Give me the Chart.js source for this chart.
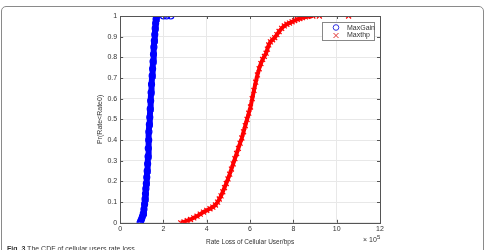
<!DOCTYPE html>
<html>
<head>
<meta charset="utf-8">
<script src="https://cdn.jsdelivr.net/npm/chart.js@4"></script>
<style>
  html, body { margin: 0; padding: 0; background: #fff; overflow: hidden; }
  #wrap { position: relative; width: 486px; height: 250px; }
  #frame { position: absolute; left: 1px; top: 6px; width: 481px; height: 270px;
           border: 1px solid #8a8a8a; border-radius: 5px; }
  #caption { position: absolute; left: 7px; top: 245px; font: 7px "Liberation Sans", Arial, sans-serif;
             color: #333; white-space: nowrap; }
  canvas { position: absolute; left: 0; top: 0; }
</style>
</head>
<body>
<div id="wrap">
  <div id="frame"></div>
  <canvas id="chart" width="486" height="250"></canvas>
  <div id="caption"><b>Fig. 3</b> The CDF of cellular users rate loss</div>
</div>
<script>
// Ejes (x en unidades de 10^5 bps)
const X_TICKS = [0, 2, 4, 6, 8, 10, 12];
const Y_TICKS = [0, 0.1, 0.2, 0.3, 0.4, 0.5, 0.6, 0.7, 0.8, 0.9, 1];
const Y_TICK_LABELS = ['0', '0.1', '0.2', '0.3', '0.4', '0.5', '0.6', '0.7', '0.8', '0.9', '1'];

// MaxGain (circulos azules)
const MAXGAIN_X = [0.92, 0.95, 0.99, 1.03, 1.07, 1.10, 1.13, 1.15, 1.17, 1.19, 1.21, 1.23, 1.25, 1.27,
                   1.29, 1.30, 1.32, 1.33, 1.35, 1.37, 1.39, 1.41, 1.43, 1.45, 1.48, 1.50, 1.52, 1.54,
                   1.56, 1.58, 1.60, 1.62, 1.64, 1.66, 1.69, 2.00, 2.15, 2.34];
const MAXGAIN_Y = [0.000, 0.008, 0.018, 0.030, 0.045, 0.065, 0.090, 0.115, 0.140, 0.165, 0.190, 0.220, 0.250, 0.285,
                   0.320, 0.360, 0.400, 0.440, 0.475, 0.510, 0.550, 0.590, 0.630, 0.670, 0.710, 0.745, 0.780, 0.815,
                   0.850, 0.880, 0.910, 0.940, 0.965, 0.985, 1.000, 1.000, 1.000, 1.000];

// Maxthp (cruces rojas)
const MAXTHP_X = [2.80, 2.95, 3.10, 3.25, 3.40, 3.55, 3.70, 3.85, 4.00, 4.15, 4.28, 4.40, 4.50, 4.58,
                  4.66, 4.74, 4.82, 4.90, 4.98, 5.06, 5.14, 5.22, 5.30, 5.38, 5.46, 5.54, 5.62, 5.70,
                  5.78, 5.86, 5.94, 6.02, 6.10, 6.18, 6.26, 6.34, 6.42, 6.50, 6.58, 6.66, 6.74, 6.80,
                  6.86, 6.94, 7.04, 7.14, 7.24, 7.34, 7.46, 7.58, 7.70, 7.82, 7.94, 8.06, 8.18, 8.30,
                  8.42, 8.55, 8.65, 8.90, 9.20, 10.55];
const MAXTHP_Y = [0.000, 0.004, 0.010, 0.016, 0.024, 0.032, 0.042, 0.052, 0.060, 0.068, 0.076, 0.086, 0.100, 0.115,
                  0.130, 0.150, 0.170, 0.190, 0.212, 0.235, 0.260, 0.285, 0.310, 0.335, 0.360, 0.385, 0.410, 0.440,
                  0.470, 0.500, 0.530, 0.560, 0.600, 0.640, 0.680, 0.715, 0.745, 0.770, 0.790, 0.805, 0.820, 0.840,
                  0.860, 0.875, 0.885, 0.895, 0.910, 0.925, 0.940, 0.952, 0.960, 0.966, 0.972, 0.978, 0.984, 0.988,
                  0.992, 0.996, 0.998, 1.000, 1.000, 1.000];

const FONT = '"Liberation Sans", Arial, sans-serif';
const TXT = '#333';

function pairs(xs, ys) { return xs.map((x, i) => ({ x: x, y: ys[i] })); }

// ocultar el tramo que une los puntos sueltos en y=1
const hideTail = ctx => (ctx.p0.parsed.y >= 1 && ctx.p1.parsed.y >= 1) ? 'rgba(0,0,0,0)' : undefined;

const boxPlugin = {
    id: 'matlabBox',
    afterDraw(chart) {
        const { ctx, chartArea: a, scales } = chart;
        ctx.save();
        ctx.strokeStyle = '#555';
        ctx.lineWidth = 1;
        ctx.strokeRect(Math.round(a.left) + 0.5, Math.round(a.top) + 0.5,
                       Math.round(a.right - a.left), Math.round(a.bottom - a.top));
        // ticks hacia adentro
        ctx.beginPath();
        X_TICKS.forEach(v => {
            const px = Math.round(scales.x.getPixelForValue(v)) + 0.5;
            ctx.moveTo(px, a.bottom); ctx.lineTo(px, a.bottom - 3);
            ctx.moveTo(px, a.top); ctx.lineTo(px, a.top + 3);
        });
        Y_TICKS.forEach(v => {
            const py = Math.round(scales.y.getPixelForValue(v)) + 0.5;
            ctx.moveTo(a.left, py); ctx.lineTo(a.left + 3, py);
            ctx.moveTo(a.right, py); ctx.lineTo(a.right - 3, py);
        });
        ctx.stroke();

        // x 10^5
        ctx.fillStyle = TXT;
        ctx.font = '7px ' + FONT;
        ctx.textBaseline = 'alphabetic';
        ctx.textAlign = 'left';
        ctx.fillText('\u00d7 10', a.right - 17, a.bottom + 19);
        ctx.font = '6px ' + FONT;
        ctx.fillText('5', a.right - 3, a.bottom + 16);

        // leyenda
        const lx = 322, ly = 22, lw = 52, lh = 18;
        ctx.fillStyle = '#fff';
        ctx.fillRect(lx, ly, lw, lh);
        ctx.strokeStyle = '#888';
        ctx.strokeRect(lx + 0.5, ly + 0.5, lw, lh);
        ctx.lineWidth = 1;
        ctx.strokeStyle = '#3030e0';
        ctx.beginPath(); ctx.arc(336, 27.5, 2.8, 0, Math.PI * 2); ctx.stroke();
        ctx.strokeStyle = '#e03030';
        ctx.beginPath();
        ctx.moveTo(333.5, 33); ctx.lineTo(338.5, 38);
        ctx.moveTo(338.5, 33); ctx.lineTo(333.5, 38);
        ctx.stroke();
        ctx.fillStyle = TXT;
        ctx.font = '7px ' + FONT;
        ctx.textBaseline = 'middle';
        ctx.fillText(chart.data.datasets[0].label, 347, 28);
        ctx.fillText(chart.data.datasets[1].label, 347, 35.5);
        ctx.restore();
    }
};

new Chart(document.getElementById('chart').getContext('2d'), {
    type: 'scatter',
    data: {
        datasets: [
            {
                label: 'MaxGain',
                data: pairs(MAXGAIN_X, MAXGAIN_Y),
                showLine: true,
                borderColor: '#0000ff',
                borderWidth: 6,
                segment: { borderColor: hideTail },
                pointStyle: 'circle',
                pointRadius: 3,
                pointBorderWidth: 1.2,
                pointBorderColor: '#0000ff',
                pointBackgroundColor: 'rgba(0,0,255,0)'
            },
            {
                label: 'Maxthp',
                data: pairs(MAXTHP_X, MAXTHP_Y),
                showLine: true,
                borderColor: '#ff0000',
                borderWidth: 4,
                segment: { borderColor: hideTail },
                pointStyle: 'crossRot',
                pointRadius: 3.5,
                pointBorderWidth: 1.2,
                pointBorderColor: '#ff0000'
            }
        ]
    },
    plugins: [boxPlugin],
    options: {
        responsive: false,
        animation: false,
        layout: { padding: { left: 96, right: 106, top: 16, bottom: 4 } },
        plugins: { legend: { display: false }, tooltip: { enabled: false } },
        scales: {
            x: {
                type: 'linear', min: 0, max: 12,
                afterBuildTicks: s => { s.ticks = X_TICKS.map(v => ({ value: v })); },
                ticks: { color: TXT, font: { size: 7, family: FONT }, padding: 2, maxRotation: 0 },
                grid: { color: '#e8e8e8', drawTicks: false },
                border: { display: false },
                title: { display: true, text: 'Rate Loss of Cellular User/bps', color: TXT,
                         font: { size: 6.5, family: FONT }, padding: { top: 3, bottom: 0 } }
            },
            y: {
                type: 'linear', min: 0, max: 1,
                afterBuildTicks: s => { s.ticks = Y_TICKS.map(v => ({ value: v })); },
                ticks: { color: TXT, font: { size: 7, family: FONT }, padding: 3,
                         callback: (v, i) => Y_TICK_LABELS[i] },
                grid: { color: '#e8e8e8', drawTicks: false },
                border: { display: false },
                title: { display: true, text: 'Pr(Rate<Rate0)', color: TXT,
                         font: { size: 7, family: FONT }, padding: { top: 0, bottom: 0 } }
            }
        }
    }
});
</script>
</body>
</html>
